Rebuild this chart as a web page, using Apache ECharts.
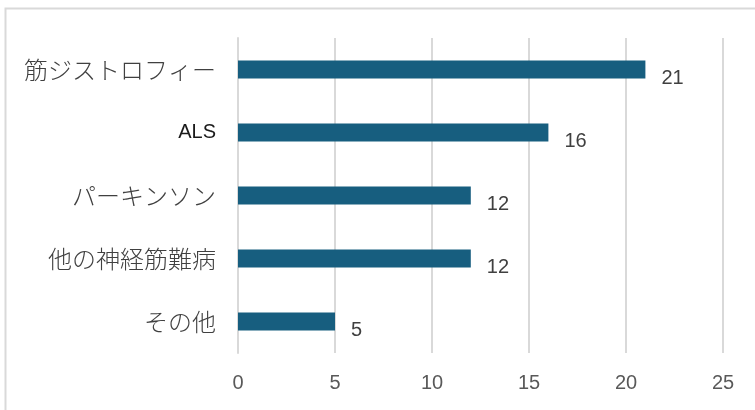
<!DOCTYPE html>
<html><head><meta charset="utf-8">
<script src="https://cdn.jsdelivr.net/npm/echarts@6/dist/echarts.min.js"></script>
<style>html,body{margin:0;padding:0;background:#fff}#c{width:755px;height:410px}</style>
</head><body><div id="c"></div>
<script>
const categories = ['筋ジストロフィー', 'ALS', 'パーキンソン', '他の神経筋難病', 'その他'];
const values = [21, 16, 12, 12, 5];
const xTicks = [0, 5, 10, 15, 20, 25];

const chart = echarts.init(document.getElementById('c'));
chart.setOption({
  animation: false,
  backgroundColor: '#fff',
  graphic: [{
    type: 'rect', shape: {x: 5.5, y: 8.5, width: 800, height: 500},
    style: {fill: 'none', stroke: '#d9d9d9', lineWidth: 2}, silent: true
  }],
  grid: {left: 238, right: 32, top: 38, bottom: 57},
  xAxis: {
    type: 'value', min: xTicks[0], max: xTicks[xTicks.length - 1], interval: 5,
    axisLine: {show: false}, axisTick: {show: false},
    splitLine: {show: true, lineStyle: {color: '#d9d9d9', width: 2}},
    axisLabel: {color: '#595959', fontSize: 20, margin: 20, fontFamily: 'Liberation Sans, Arial, sans-serif'}
  },
  yAxis: {
    type: 'category', data: categories, inverse: true,
    axisLine: {show: true, lineStyle: {color: '#d9d9d9', width: 2}},
    axisTick: {show: false},
    axisLabel: {
      color: '#404040', fontSize: 24, fontWeight: 300, margin: 22,
      fontFamily: 'Noto Sans CJK JP, sans-serif',
      formatter: v => v === 'ALS' ? '{a|ALS}' : v,
      rich: {a: {fontSize: 20, fontWeight: 'normal', color: '#1a1a1a', fontFamily: 'Liberation Sans, Arial, sans-serif'}}
    }
  },
  series: [{
    type: 'bar', data: values, barWidth: 18,
    itemStyle: {color: '#175e7f'},
    label: {
      show: true, position: 'right', distance: 16, offset: [0, 9],
      color: '#404040', fontSize: 20, fontFamily: 'Liberation Sans, Arial, sans-serif'
    }
  }]
});
</script></body></html>
